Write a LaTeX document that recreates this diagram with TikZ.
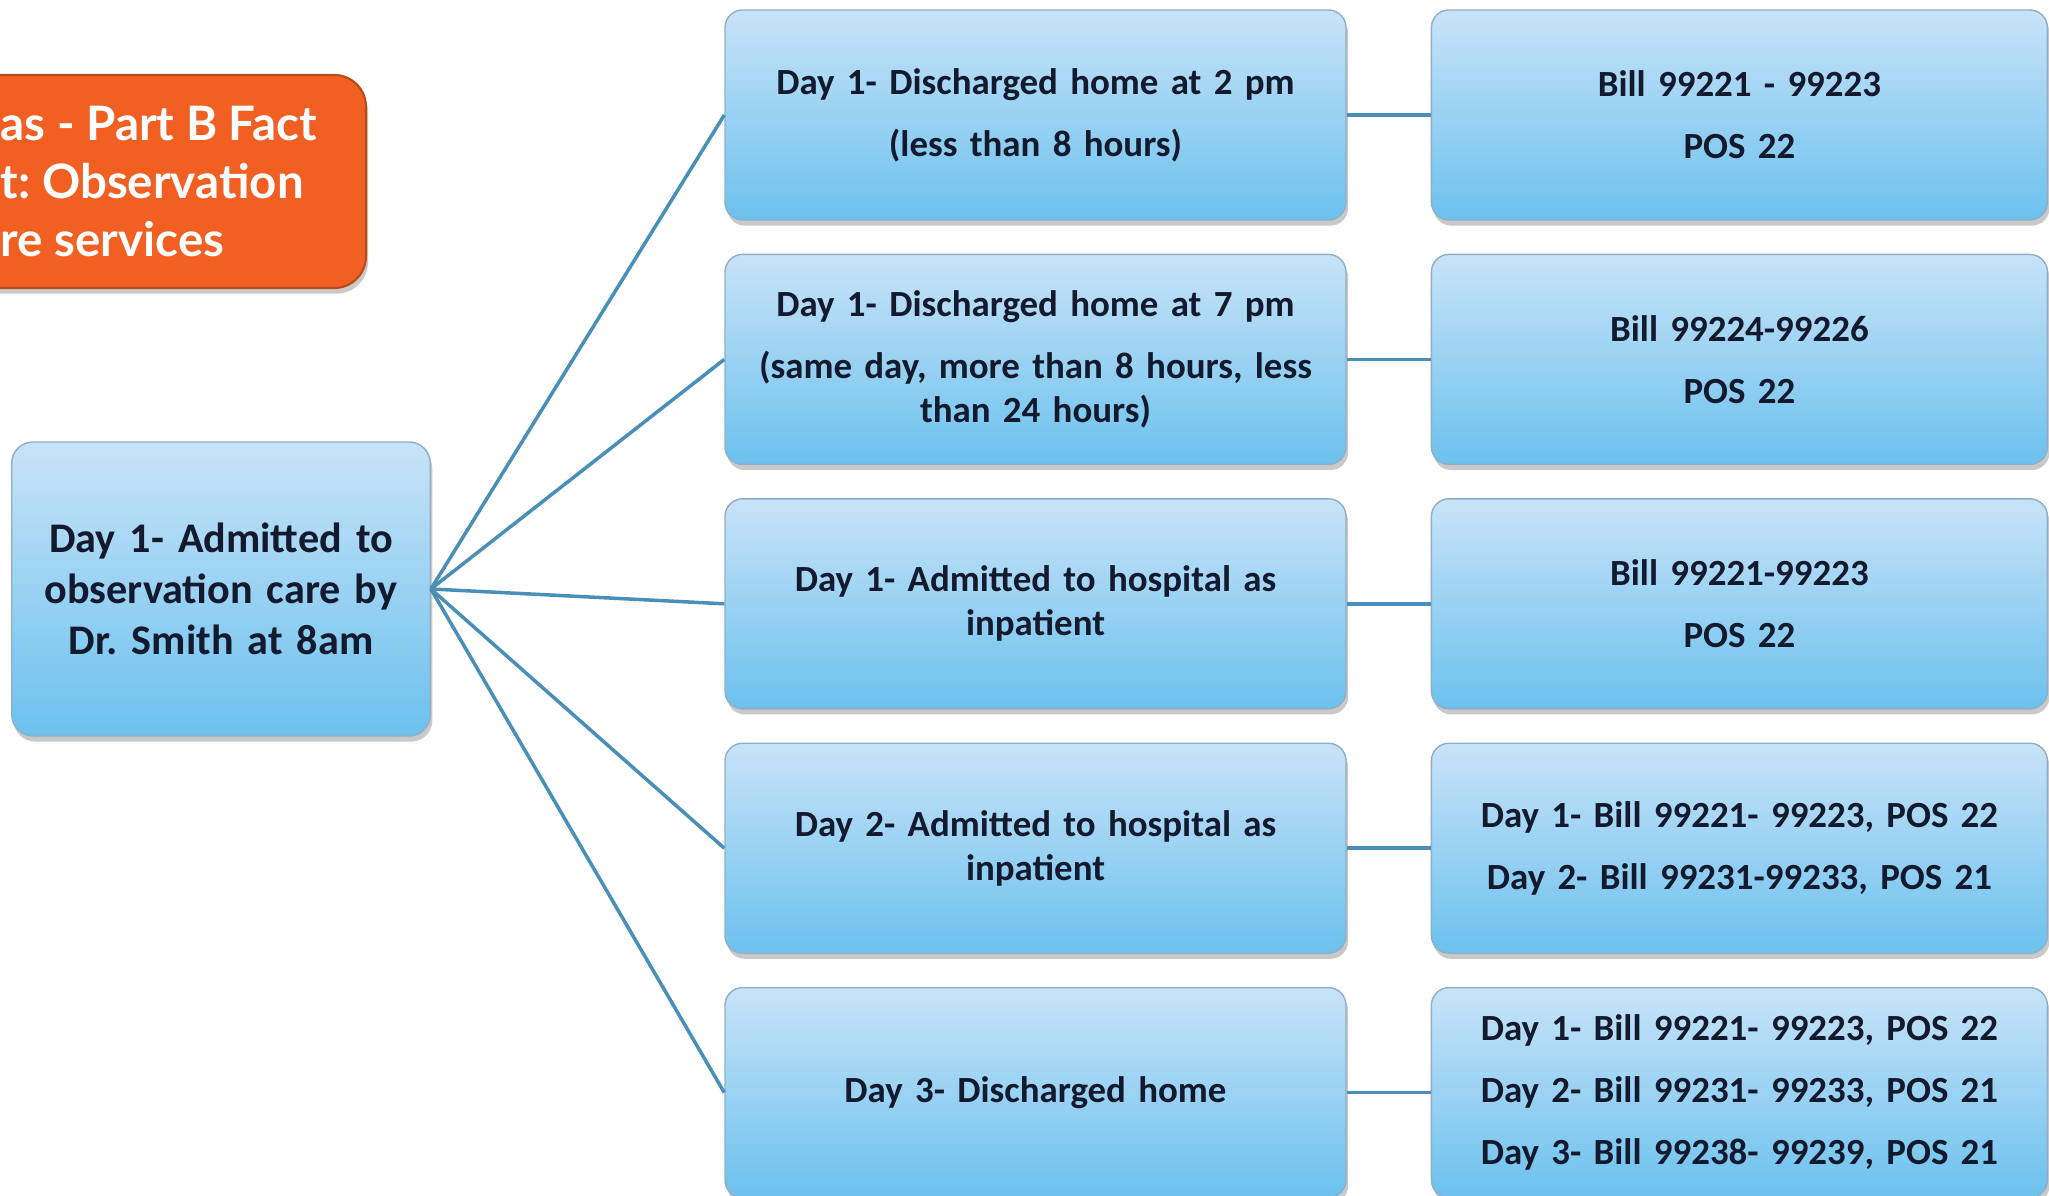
\documentclass[tikz,border=0pt]{standalone}
\usepackage{fontspec}
\setmainfont{Carlito}
\newfontfamily\titlefont{Lato}
\usetikzlibrary{positioning,shadows}
\frenchspacing

\definecolor{boxtop}{HTML}{C8E3F8}
\definecolor{boxbot}{HTML}{6CC1EE}
\definecolor{boxline}{HTML}{8FAFC6}
\definecolor{linkblue}{HTML}{4A8FB8}
\definecolor{titleorange}{HTML}{F16022}
\definecolor{titleedge}{HTML}{B94B17}
\definecolor{textnavy}{HTML}{141A2E}

\begin{document}
\begin{tikzpicture}[
    node distance=0.33cm and 0.84cm,
    stage/.style={rectangle, rounded corners=5pt, draw=boxline, line width=0.4pt, top color=boxtop, bottom color=boxbot, minimum width=6.21cm, minimum height=2.10cm, align=center, text width=5.95cm, text=textnavy, font=\fontsize{10.5}{12.6}\selectfont\bfseries, drop shadow={shadow xshift=0.6pt, shadow yshift=-1.6pt, opacity=0.3, fill=black!70}},
    billing/.style={stage, minimum width=6.16cm, text width=5.9cm},
    titlebox/.style={rectangle, rounded corners=9pt, draw=titleedge, line width=0.6pt, fill=titleorange, drop shadow={shadow xshift=0.6pt, shadow yshift=-1.6pt, opacity=0.3, fill=black!70}},
    link/.style={draw=linkblue, line width=1pt}
]
\useasboundingbox (0,0) rectangle (20.49,-11.96);
\clip (0,0) rectangle (20.49,-11.96);

% title box, cut at the left edge
\node[titlebox, minimum width=6cm, minimum height=2.13cm, anchor=east] (title) at (3.67,-1.815) {};
\node[anchor=west, inner sep=0pt, align=left, text=white, font=\titlefont\bfseries\fontsize{13.5}{16.5}\selectfont] (titletext) at (0,-1.815) {as - Part B Fact\\t: Observation\\re services};

% starting point
\node[stage, minimum width=4.16cm, minimum height=2.94cm, text width=3.95cm, rounded corners=6pt, font=\fontsize{12}{14.6}\selectfont\bfseries] (admit) at (2.21,-5.89) {Day 1- Admitted to\\observation care by\\Dr. Smith at 8am};

% outcomes
\node[stage] (out1) at (10.355,-1.15) {Day 1- Discharged home at 2 pm\\[5pt](less than 8 hours)};
\node[stage, below=of out1] (out2) {Day 1- Discharged home at 7 pm\\[5pt](same day, more than 8 hours, less\\than 24 hours)};
\node[stage, below=of out2] (out3) {Day 1- Admitted to hospital as\\inpatient};
\node[stage, below=of out3] (out4) {Day 2- Admitted to hospital as\\inpatient};
\node[stage, below=of out4] (out5) {Day 3- Discharged home};

% billing
\node[billing, right=of out1] (bill1) {Bill 99221 - 99223\\[5pt]POS 22};
\node[billing, right=of out2] (bill2) {Bill 99224-99226\\[5pt]POS 22};
\node[billing, right=of out3] (bill3) {Bill 99221-99223\\[5pt]POS 22};
\node[billing, right=of out4] (bill4) {Day 1- Bill 99221- 99223, POS 22\\[5pt]Day 2- Bill 99231-99233, POS 21};
\node[billing, right=of out5] (bill5) {Day 1- Bill 99221- 99223, POS 22\\[5pt]Day 2- Bill 99231- 99233, POS 21\\[5pt]Day 3- Bill 99238- 99239, POS 21};

\foreach \n in {1,...,5} {
    \draw[link] (admit.east) -- (out\n.west);
    \draw[link] (out\n.east) -- (bill\n.west);
}

\end{tikzpicture}
\end{document}
